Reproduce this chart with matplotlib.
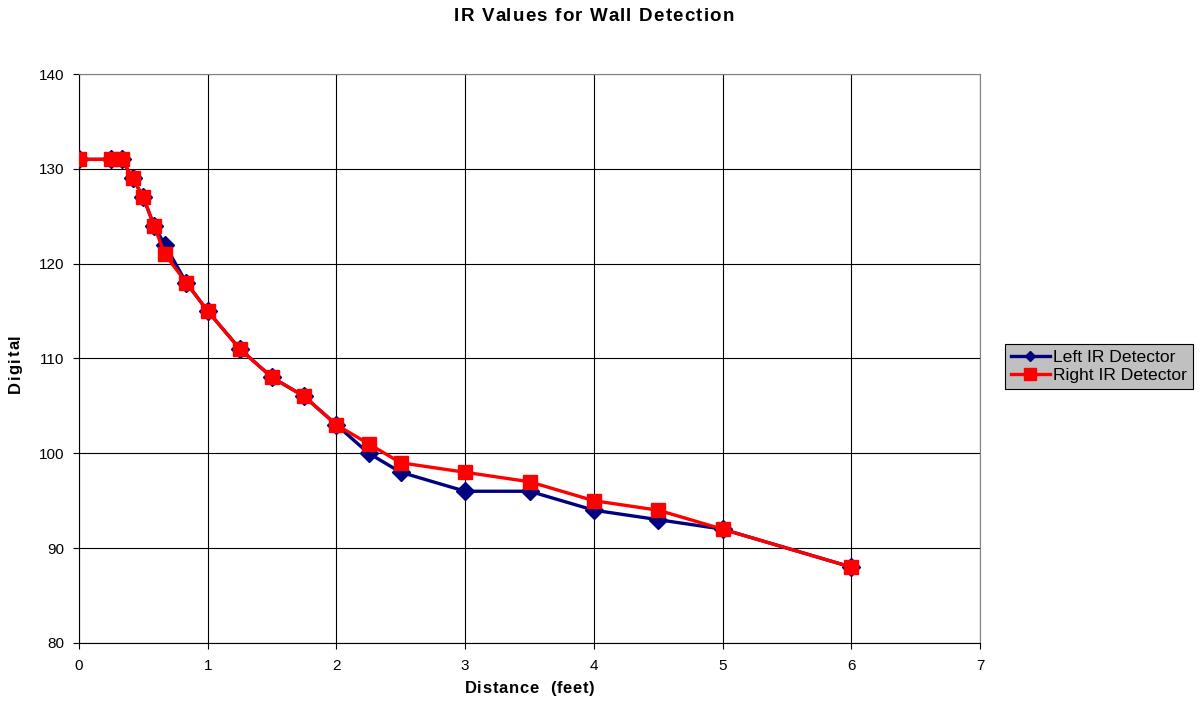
import matplotlib
matplotlib.use("Agg")
import matplotlib.pyplot as plt
from matplotlib.lines import Line2D

plt.rcParams['font.family'] = ['Liberation Sans', 'DejaVu Sans']

distance = [0, 0.25, 0.333, 0.417, 0.5, 0.583, 0.667, 0.833, 1, 1.25, 1.5,
            1.75, 2, 2.25, 2.5, 3, 3.5, 4, 4.5, 5, 6]
left_ir = [131, 131, 131, 129, 127, 124, 122, 118, 115, 111, 108,
           106, 103, 100, 98, 96, 96, 94, 93, 92, 88]
right_ir = [131, 131, 131, 129, 127, 124, 121, 118, 115, 111, 108,
            106, 103, 101, 99, 98, 97, 95, 94, 92, 88]

LEFT_COLOR = '#000080'
RIGHT_COLOR = '#ff0000'

W_PX, H_PX = 1204, 705
fig = plt.figure(figsize=(W_PX / 100, H_PX / 100), dpi=100)
ax = fig.add_axes([0.0656, 0.088, 0.7484, 0.807])


def tracked_text(fig, cx, cy, s, spacing, vertical=False, **kw):
    """Draw a string centred at (cx, cy) pixels from the top-left corner,
    with extra letter spacing in pixels."""
    renderer = fig.canvas.get_renderer()

    def width(txt):
        t = fig.text(0, 0, txt, **kw)
        w = t.get_window_extent(renderer).width
        t.remove()
        return w

    ref = width('x')
    offsets = [width(s[:i] + 'x') - ref if i else 0.0 for i in range(len(s))]
    total = width(s) + spacing * (len(s) - 1)
    if vertical:
        start = (H_PX - cy) - total / 2
    else:
        start = cx - total / 2
    for i, ch in enumerate(s):
        p = start + offsets[i] + spacing * i
        if vertical:
            fig.text(cx / W_PX, p / H_PX, ch, rotation=90, ha='center',
                     va='bottom', **kw)
        else:
            fig.text(p / W_PX, 1 - cy / H_PX, ch, ha='left', va='center', **kw)


ax.plot(distance, left_ir, color=LEFT_COLOR, lw=2.4, marker='D',
        markersize=9.5, zorder=3)
ax.plot(distance, right_ir, color=RIGHT_COLOR, lw=2.4, marker='s',
        markersize=10, zorder=4)

ax.set_xlim(0, 7)
ax.set_ylim(80, 140)
ax.set_xticks(range(0, 8))
ax.set_yticks(range(80, 141, 10))
ax.grid(True, color='black', lw=0.8)
ax.set_axisbelow(True)
for s in ax.spines.values():
    s.set_color('#808080')
    s.set_linewidth(0.8)
ax.spines['left'].set_color('black')
ax.spines['bottom'].set_color('black')
ax.tick_params(direction='out', length=4.3, labelsize=11, width=0.8)
ax.tick_params(axis='x', pad=7)
ax.tick_params(axis='y', pad=6)

tracked_text(fig, 594, 16.5, 'IR Values for Wall Detection', 1.2,
             fontsize=13.5, fontweight='bold')
tracked_text(fig, 529.5, 688.5, 'Distance  (feet)', 0.7,
             fontsize=12, fontweight='bold')
tracked_text(fig, 15, 363.5, 'Digital', 1.3, vertical=True,
             fontsize=12, fontweight='bold')

handles = [
    Line2D([], [], color=LEFT_COLOR, lw=2.4, marker='D', markersize=5),
    Line2D([], [], color=RIGHT_COLOR, lw=2.4, marker='s', markersize=8.5),
]
leg = ax.legend(handles, ['Left IR Detector', 'Right IR Detector'],
                loc='center left', bbox_to_anchor=(1.028, 0.486),
                fontsize=12.6, frameon=True, fancybox=False,
                facecolor='#c0c0c0', edgecolor='black', framealpha=1,
                handlelength=2.2, borderpad=0.33, labelspacing=0.2,
                handletextpad=0.2, borderaxespad=0)
leg.get_frame().set_linewidth(0.8)

fig.savefig('out.png', dpi=100)
